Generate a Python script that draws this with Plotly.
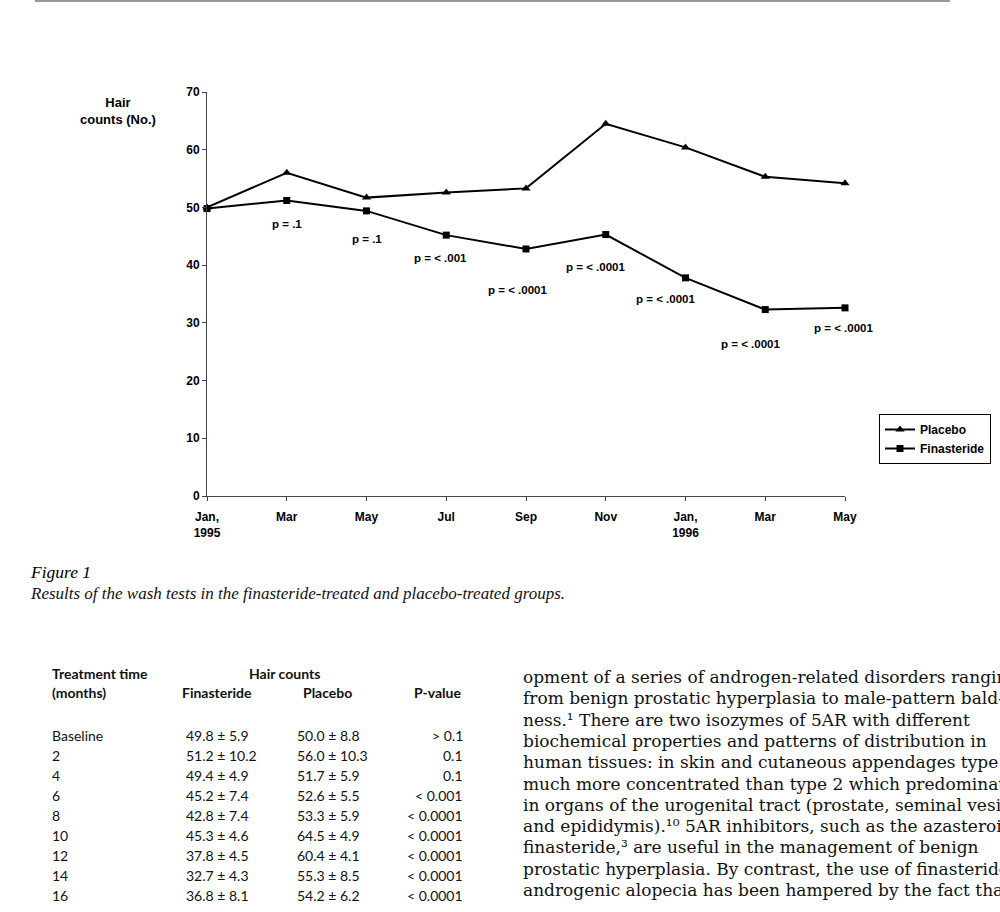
import plotly.graph_objects as go

W, H = 1000, 912

# ---- chart data ----
months = ["Jan,<br>1995", "Mar", "May", "Jul", "Sep", "Nov", "Jan,<br>1996", "Mar", "May"]
placebo = [50.0, 56.0, 51.7, 52.6, 53.3, 64.5, 60.4, 55.3, 54.2]
finasteride = [49.8, 51.2, 49.4, 45.2, 42.8, 45.3, 37.8, 32.3, 32.6]
p_labels = ["", "p = .1", "p = .1", "p = < .001", "p = < .0001", "p = < .0001",
            "p = < .0001", "p = < .0001", "p = < .0001"]
y_ticks = [0, 10, 20, 30, 40, 50, 60, 70]

# ---- table data ----
tbl_time = ["Baseline", "2", "4", "6", "8", "10", "12", "14", "16"]
tbl_fin = ["49.8 ± 5.9", "51.2 ± 10.2", "49.4 ± 4.9", "45.2 ± 7.4", "42.8 ± 7.4",
           "45.3 ± 4.6", "37.8 ± 4.5", "32.7 ± 4.3", "36.8 ± 8.1"]
tbl_pla = ["50.0 ± 8.8", "56.0 ± 10.3", "51.7 ± 5.9", "52.6 ± 5.5", "53.3 ± 5.9",
           "64.5 ± 4.9", "60.4 ± 4.1", "55.3 ± 8.5", "54.2 ± 6.2"]
tbl_p = ["> 0.1", "0.1", "0.1", "< 0.001", "< 0.0001", "< 0.0001", "< 0.0001",
         "< 0.0001", "< 0.0001"]

body_lines = [
    "opment of a series of androgen-related disorders ranging",
    "from benign prostatic hyperplasia to male-pattern bald-",
    "ness.¹ There are two isozymes of 5AR with different",
    "biochemical properties and patterns of distribution in",
    "human tissues: in skin and cutaneous appendages type 1 is",
    "much more concentrated than type 2 which predominates",
    "in organs of the urogenital tract (prostate, seminal vesicles",
    "and epididymis).¹⁰ 5AR inhibitors, such as the azasteroid",
    "finasteride,³ are useful in the management of benign",
    "prostatic hyperplasia. By contrast, the use of finasteride in",
    "androgenic alopecia has been hampered by the fact that",
]

# label offsets (px) for p-value text relative to finasteride points
p_dx = [0, 0, 0, -6, -9, -10, -20, -15, -2]
p_dy = [0, -23, -28, -23, -41, -32, -21, -34, -20]

SANS = "Liberation Sans"
SERIF = "Liberation Serif"
TF = "Lato"
x_idx = list(range(len(months)))


def py(ypx):
    return (H - ypx) / H


def px(xpx):
    return xpx / W


fig = go.Figure()
fig.add_trace(go.Scatter(
    x=x_idx, y=placebo, name="Placebo", mode="lines+markers",
    line=dict(color="black", width=2),
    marker=dict(symbol="triangle-up", size=8, color="black"),
    cliponaxis=False,
))
fig.add_trace(go.Scatter(
    x=x_idx, y=finasteride, name="Finasteride", mode="lines+markers",
    line=dict(color="black", width=2),
    marker=dict(symbol="square", size=7, color="black"),
    cliponaxis=False,
))

ann = []
for i, t in enumerate(p_labels):
    if t:
        ann.append(dict(x=x_idx[i], y=finasteride[i], xref="x", yref="y", text=t,
                        showarrow=False, xshift=p_dx[i], yshift=p_dy[i],
                        font=dict(family=SANS, size=11.5, color="black", weight="bold"),
                        xanchor="center", yanchor="middle"))

ann.append(dict(x=px(118), y=py(111), xref="paper", yref="paper",
                text="Hair<br>counts (No.)", showarrow=False,
                font=dict(family=SANS, size=13, color="black", weight="bold"), align="center",
                xanchor="center", yanchor="middle"))

ann.append(dict(x=px(28), y=py(572), xref="paper", yref="paper", text="<i>Figure 1</i>",
                showarrow=False, xanchor="left", yanchor="middle",
                font=dict(family=SERIF, size=17.5, color="black")))
ann.append(dict(x=px(28), y=py(593), xref="paper", yref="paper",
                text="<i>Results of the wash tests in the finasteride-treated and placebo-treated groups.</i>",
                showarrow=False, xanchor="left", yanchor="middle",
                font=dict(family=SERIF, size=17, color="#111")))

tfont = dict(family=TF, size=14, color="#111")
bfont = dict(family=TF, size=14, color="#111", weight="bold")
hdr = [
    (50, 673, "Treatment time", "left"),
    (50, 692, "(months)", "left"),
    (284, 673, "Hair counts", "center"),
    (217, 692, "Finasteride", "center"),
    (327, 692, "Placebo", "center"),
    (463, 692, "P-value", "right"),
]
for hx, hy, ht, ha in hdr:
    ann.append(dict(x=px(hx), y=py(hy), xref="paper", yref="paper", text=ht,
                    showarrow=False, xanchor=ha, yanchor="middle", font=bfont))
for i in range(len(tbl_time)):
    yy = py(735 + i * 20.1)
    ann.append(dict(x=px(50), y=yy, xref="paper", yref="paper", text=tbl_time[i],
                    showarrow=False, xanchor="left", yanchor="middle", font=tfont))
    ann.append(dict(x=px(184), y=yy, xref="paper", yref="paper", text=tbl_fin[i],
                    showarrow=False, xanchor="left", yanchor="middle", font=tfont))
    ann.append(dict(x=px(295), y=yy, xref="paper", yref="paper", text=tbl_pla[i],
                    showarrow=False, xanchor="left", yanchor="middle", font=tfont))
    ann.append(dict(x=px(465), y=yy, xref="paper", yref="paper", text=tbl_p[i],
                    showarrow=False, xanchor="right", yanchor="middle", font=tfont))

for i, line in enumerate(body_lines):
    ann.append(dict(x=px(521), y=py(677 + i * 21.3), xref="paper", yref="paper", text=line,
                    showarrow=False, xanchor="left", yanchor="middle",
                    font=dict(family="DejaVu Serif", size=17, color="#111")))

fig.update_layout(
    width=W, height=H, autosize=False,
    margin=dict(l=0, r=0, t=0, b=0, autoexpand=False),
    paper_bgcolor="white", plot_bgcolor="white",
    showlegend=True,
    legend=dict(x=px(879), y=py(414), xanchor="left", yanchor="top",
                bordercolor="black", borderwidth=1, bgcolor="white",
                font=dict(family=SANS, size=12, color="black", weight="bold"),
                itemwidth=30, tracegroupgap=0),
    annotations=ann,
    shapes=[dict(type="line", xref="paper", yref="paper", x0=0.035, x1=0.95, y0=0.999, y1=0.999,
                 line=dict(color="#999", width=2))],
    xaxis=dict(domain=[px(207), px(845)], range=[0, 8], tickvals=x_idx, ticktext=months,
               showgrid=False, zeroline=False, showline=True, linecolor="#444", linewidth=1,
               ticks="outside", ticklen=4, tickcolor="#444", ticklabelstandoff=6,
               tickfont=dict(family=SANS, size=12, color="black", weight="bold")),
    yaxis=dict(domain=[py(496), py(92)], range=[0, 70], tickvals=y_ticks,
               showgrid=False, zeroline=False, showline=True, linecolor="#444", linewidth=1,
               ticks="outside", ticklen=4, tickcolor="#444",
               tickfont=dict(family=SANS, size=12, color="black", weight="bold")),
)

post = "document.body.style.margin='0';"
fig.write_html("out.html", config={"displayModeBar": False}, post_script=post)
